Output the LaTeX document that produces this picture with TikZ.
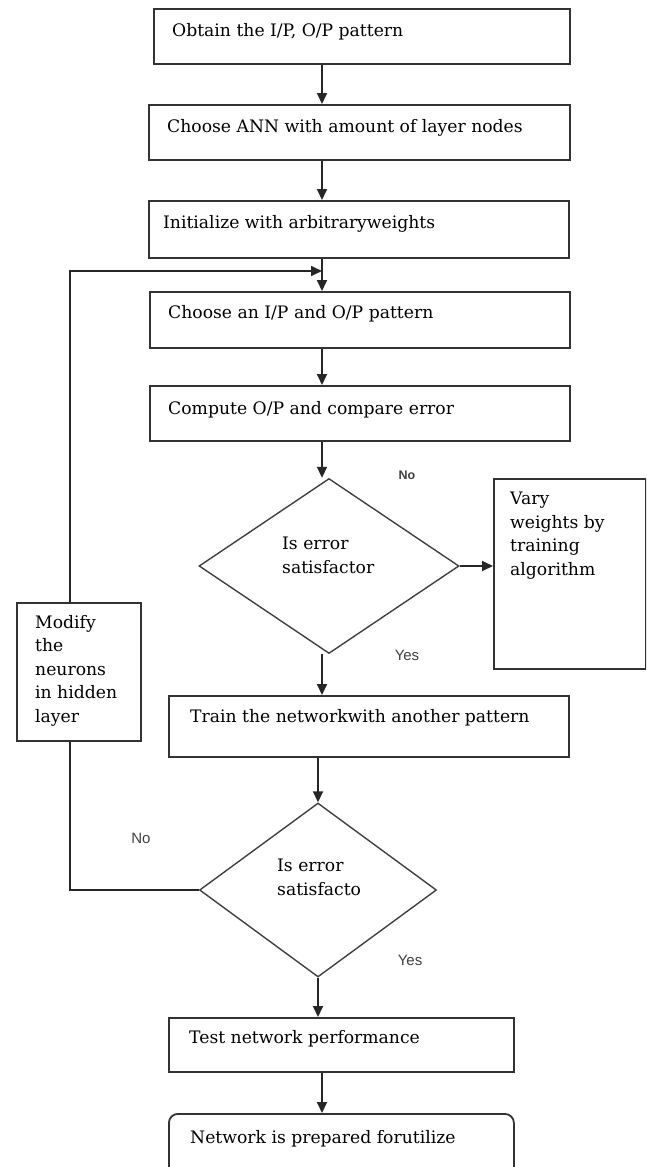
\documentclass[tikz,border=0pt]{standalone}
\usepackage{fontspec}
\setmainfont{DejaVu Serif}
\newfontfamily\lblfont{Liberation Sans}
\usetikzlibrary{shapes.geometric,arrows.meta}
\begin{document}
\begin{tikzpicture}[x=1pt,y=-1pt,
  boxst/.style={draw=black!80, line width=1.8pt, inner sep=0pt, anchor=north west},
  dmd/.style={draw=black!75, line width=1.4pt, diamond, inner sep=0pt},
  txt/.style={font=\fontsize{17.2}{23.5}\selectfont, anchor=west, inner sep=0pt, text=black},
  mtxt/.style={font=\fontsize{17.2}{23.5}\selectfont, anchor=north west, inner sep=0pt, align=left, text=black},
  lbl/.style={font=\lblfont\fontsize{15}{16}\selectfont, inner sep=0pt, text=black!75},
  conn/.style={draw=black!85, line width=1.8pt},
  arr/.style={conn, -{Triangle[width=10pt,length=11pt]}}]
\useasboundingbox (0,0) rectangle (646,1167);
\clip (0,0) rectangle (646,1167);
% boxes
\node[boxst, minimum width=416, minimum height=55] (b1) at (153,8) {};
\node[boxst, minimum width=421, minimum height=55] (b2) at (148,104) {};
\node[boxst, minimum width=420, minimum height=57] (b3) at (148,200) {};
\node[boxst, minimum width=420, minimum height=56] (b4) at (149,291) {};
\node[boxst, minimum width=420, minimum height=55] (b5) at (149,385) {};
\node[boxst, minimum width=152, minimum height=190] (vary) at (493,478) {};
\node[boxst, minimum width=124, minimum height=138] (mod) at (16,602) {};
\node[boxst, minimum width=400, minimum height=61] (b6) at (168,695) {};
\node[boxst, minimum width=345, minimum height=54] (b7) at (168,1017) {};
\node[boxst, rounded corners=9pt, minimum width=345, minimum height=70] (b8) at (168,1113) {};
% diamonds
\node[dmd, minimum width=260, minimum height=175] (d1) at (329,566) {};
\node[dmd, minimum width=237, minimum height=174] (d2) at (318,890) {};
% texts
\node[txt] (t1) at (172,32) {Obtain the I/P, O/P pattern};
\node[txt] (t2) at (167,128) {Choose ANN with amount of layer nodes};
\node[txt] (t3) at (163,224) {Initialize with arbitraryweights};
\node[txt] (t4) at (168,314) {Choose an I/P and O/P pattern};
\node[txt] (t5) at (168,410) {Compute O/P and compare error};
\node[txt] (t6) at (190,718) {Train the networkwith another pattern};
\node[txt] (t7) at (189,1039) {Test network performance};
\node[txt] (t8) at (190,1139) {Network is prepared forutilize};
\node[mtxt] (td1) at (282,537) {Is error\\satisfactor};
\node[mtxt] (td2) at (277,859) {Is error\\satisfacto};
\node[mtxt] (tm) at (35,615) {Modify\\the\\neurons\\in hidden\\layer};
\node[mtxt] (tv) at (510,492) {Vary\\weights by\\training\\algorithm};
% labels
\node[lbl, font=\lblfont\bfseries\fontsize{12.5}{14}\selectfont] (no1) at (407,475) {No};
\node[lbl] (yes1) at (407,655) {Yes};
\node[lbl] (no2) at (141,838) {No};
\node[lbl] (yes2) at (410,960) {Yes};
% connector helpers
\coordinate (xa) at (322,0);
\coordinate (xb) at (318,0);
\coordinate (xf) at (70,0);
\coordinate (fb) at (322,271);
% connectors
\draw[arr] (b1.south -| xa) -- (b2.north -| xa);
\draw[arr] (b2.south -| xa) -- (b3.north -| xa);
\draw[arr] (b3.south -| xa) -- (b4.north -| xa);
\draw[arr] (b4.south -| xa) -- (b5.north -| xa);
\draw[arr] (b5.south -| xa) -- (d1.north -| xa);
\draw[arr] (d1.south -| xa) -- (b6.north -| xa);
\draw[arr] (d1.east) -- (vary.west |- d1.east);
\draw[arr] (b6.south -| xb) -- (d2.north);
\draw[arr] (d2.south) -- (b7.north -| d2.south);
\draw[arr] (b7.south -| xa) -- (b8.north -| xa);
\draw[arr] (mod.north -| xf) |- (fb);
\draw[conn] (mod.south -| xf) |- (d2.west);
\end{tikzpicture}
\end{document}
